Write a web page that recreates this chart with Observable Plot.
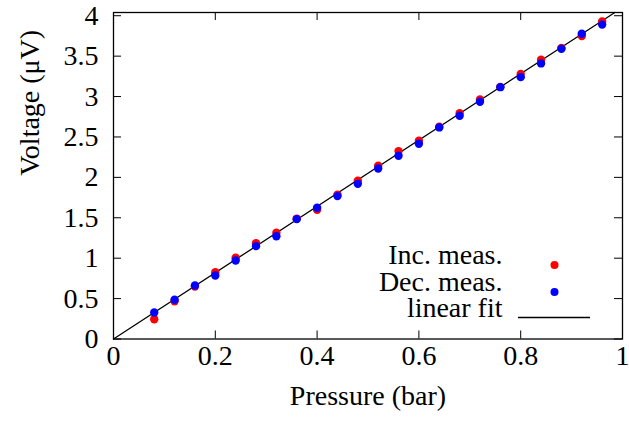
<!DOCTYPE html>
<html>
<head>
<meta charset="utf-8">
<script src="https://cdn.jsdelivr.net/npm/d3@7"></script>
<script src="https://cdn.jsdelivr.net/npm/@observablehq/plot@0.6"></script>
<style>
  html, body { margin: 0; padding: 0; background: #fff; }
</style>
</head>
<body>
<div id="chart"></div>
<script>
// Data
const pressure = [0.08, 0.12, 0.16, 0.20, 0.24, 0.28, 0.32, 0.36, 0.40, 0.44, 0.48, 0.52,
                  0.56, 0.60, 0.64, 0.68, 0.72, 0.76, 0.80, 0.84, 0.88, 0.92, 0.96];
const incMeas = [0.245, 0.468, 0.650, 0.827, 1.005, 1.186, 1.314, 1.490, 1.600, 1.785, 1.960, 2.145,
                 2.325, 2.453, 2.626, 2.795, 2.964, 3.120, 3.280, 3.455, 3.600, 3.750, 3.930];
const decMeas = [0.328, 0.485, 0.662, 0.786, 0.971, 1.149, 1.272, 1.483, 1.624, 1.768, 1.920, 2.110,
                 2.267, 2.416, 2.618, 2.762, 2.935, 3.116, 3.240, 3.410, 3.590, 3.777, 3.890];
// linear fit endpoints (as drawn)
const fitX = [0, 0.985];
const fitY = [0, 4.04];

const xTicks = [0, 0.2, 0.4, 0.6, 0.8, 1];
const yTicks = [0, 0.5, 1, 1.5, 2, 2.5, 3, 3.5, 4];
const xTickLabels = ["0", "0.2", "0.4", "0.6", "0.8", "1"];
const yTickLabels = ["0", "0.5", "1", "1.5", "2", "2.5", "3", "3.5", "4"];

const legendNames = ["Inc. meas.", "Dec. meas.", "linear fit"];
const legendColors = ["#ff0000", "#0000ff", "#000000"];

const xLabel = "Pressure (bar)";
const yLabel = "Voltage (μV)";

const W = 629, H = 421;
const mL = 113, mR = 7, mT = 12, mB = 82.5;
const plotH = H - mT - mB;
const plotW = W - mL - mR;
const tickLen = 8;

const incData = pressure.map((p, i) => ({p, v: incMeas[i]}));
const decData = pressure.map((p, i) => ({p, v: decMeas[i]}));
const fitData = fitX.map((x, i) => ({x, y: fitY[i]}));
const rowDy = [-75.5, -48.5, -22];

const legendMarks = [];
legendNames.forEach((name, i) => {
  legendMarks.push(Plot.text([name], {frameAnchor: "bottom-right", textAnchor: "end", dx: -120, dy: rowDy[i], fontSize: 28, fill: "#000"}));
});
legendMarks.push(Plot.dot([legendNames[0]], {frameAnchor: "bottom-right", dx: -68, dy: rowDy[0] + 1.5, r: 4, fill: legendColors[0]}));
legendMarks.push(Plot.dot([legendNames[1]], {frameAnchor: "bottom-right", dx: -68, dy: rowDy[1] + 1.5, r: 4, fill: legendColors[1]}));
legendMarks.push(Plot.ruleY([0], {dy: rowDy[2] + 0.5, insetLeft: 405, insetRight: 32, stroke: legendColors[2], strokeWidth: 1.3}));

const chart = Plot.plot({
  width: W,
  height: H,
  marginLeft: mL,
  marginRight: mR,
  marginTop: mT,
  marginBottom: mB,
  style: {fontFamily: "'Liberation Serif', 'DejaVu Serif', serif", fontSize: "28px", background: "#fff", color: "#000"},
  x: {domain: [0, 1]},
  y: {domain: [0, 4.04]},
  marks: [
    // fit line
    Plot.line(fitData, {x: "x", y: "y", stroke: "#000", strokeWidth: 1.3}),
    // data points
    Plot.dot(incData, {x: "p", y: "v", r: 4.2, fill: legendColors[0]}),
    Plot.dot(decData, {x: "p", y: "v", r: 4.2, fill: legendColors[1]}),
    // inward ticks on all sides
    Plot.tickX(xTicks, {x: d => d, insetTop: plotH - tickLen, stroke: "#000"}),
    Plot.tickX(xTicks, {x: d => d, insetBottom: plotH - tickLen, stroke: "#000"}),
    Plot.tickY(yTicks, {y: d => d, insetRight: plotW - tickLen, stroke: "#000"}),
    Plot.tickY(yTicks, {y: d => d, insetLeft: plotW - tickLen, stroke: "#000"}),
    // axes labels
    Plot.axisX(xTicks, {tickSize: 0, tickPadding: 6, tickFormat: (d, i) => xTickLabels[i], fontSize: 28, label: null}),
    Plot.axisY(yTicks, {tickSize: 0, tickPadding: 15, tickFormat: (d, i) => yTickLabels[i], fontSize: 28, label: null}),
    Plot.text([xLabel], {frameAnchor: "bottom", dy: 66, fontSize: 28, fill: "#000"}),
    Plot.text([yLabel], {frameAnchor: "left", dx: -83, rotate: -90, fontSize: 28, fill: "#000"}),
    // frame
    Plot.frame({stroke: "#000", strokeWidth: 1.3}),
    // legend
    ...legendMarks
  ]
});

document.getElementById("chart").appendChild(chart);
</script>
</body>
</html>
